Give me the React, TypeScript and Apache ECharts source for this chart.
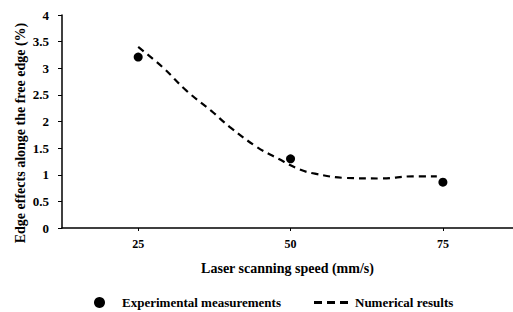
import React, { useEffect, useRef } from "react";
import * as echarts from "echarts";

const xTicks = [25, 50, 75];
const expSpeed = [25, 50, 75];
const expValues = [3.21, 1.3, 0.86];
const numSpeed = [25, 29, 33, 37, 40, 44.5, 48, 51.5, 54, 59, 65, 70, 74];
const numValues = [3.4, 3.02, 2.57, 2.2, 1.9, 1.52, 1.3, 1.1, 1.02, 0.94, 0.93, 0.97, 0.97];

const FONT = "'Liberation Serif', 'Times New Roman', serif";

export default function App() {
  const ref = useRef<HTMLDivElement>(null);
  useEffect(() => {
    if (!ref.current) return;
    const chart = echarts.init(ref.current, null, { renderer: "svg" });
    chart.setOption({
      animation: false,
      backgroundColor: "#fff",
      grid: { left: 62, right: 0, top: 15, bottom: 84, containLabel: false },
      xAxis: {
        type: "value",
        min: 12.5,
        max: 86.5,
        axisLine: { lineStyle: { color: "#000", width: 1.5 } },
        axisTick: { show: true, length: 3, customValues: xTicks, lineStyle: { color: "#000" } },
        axisLabel: {
          customValues: xTicks,
          margin: 10,
          color: "#000",
          fontFamily: FONT,
          fontWeight: "bold",
          fontSize: 12,
        },
        splitLine: { show: false },
        name: "Laser scanning speed (mm/s)",
        nameLocation: "middle",
        nameGap: 33,
        nameTextStyle: { color: "#000", fontFamily: FONT, fontWeight: "bold", fontSize: 14 },
      },
      yAxis: {
        type: "value",
        min: 0,
        max: 4,
        interval: 0.5,
        axisLine: { show: true, lineStyle: { color: "#000", width: 1.5 } },
        axisTick: { show: true, length: 4, lineStyle: { color: "#000" } },
        axisLabel: {
          margin: 13,
          color: "#000",
          fontFamily: FONT,
          fontWeight: "bold",
          fontSize: 13,
          formatter: (v: number) => String(v),
        },
        splitLine: { show: false },
      },
      graphic: [
        {
          type: "text",
          x: 20,
          y: 133,
          rotation: Math.PI / 2,
          style: {
            text: "Edge effects alonge the free edge (%)",
            fill: "#000",
            font: `bold 14px ${FONT}`,
            align: "center",
            verticalAlign: "middle",
          },
        },
      ],
      legend: [
        {
          data: [{ name: "Experimental measurements", icon: "circle", itemStyle: { color: "#000" } }],
          left: 89,
          top: 291,
          itemWidth: 11,
          itemHeight: 11,
          textStyle: { color: "#000", fontFamily: FONT, fontWeight: "bold", fontSize: 13, padding: [0, 0, 0, 12] },
        },
        {
          data: [
            {
              name: "Numerical results",
              icon: "path://M0,0H8V3H0Z M13,0H21V3H13Z M26,0H34V3H26Z",
              itemStyle: { color: "#000" },
            },
          ],
          left: 309,
          top: 291,
          itemWidth: 38,
          itemHeight: 3,
          textStyle: { color: "#000", fontFamily: FONT, fontWeight: "bold", fontSize: 13, padding: [0, 0, 0, 0] },
        },
      ],
      series: [
        {
          name: "Numerical results",
          type: "line",
          smooth: 0.4,
          showSymbol: false,
          symbol: "none",
          data: numSpeed.map((x, i) => [x, numValues[i]]),
          lineStyle: { color: "#000", width: 2.2, type: [7, 5] },
          itemStyle: { color: "#000" },
        },
        {
          name: "Experimental measurements",
          type: "scatter",
          symbol: "circle",
          symbolSize: 9,
          data: expSpeed.map((x, i) => [x, expValues[i]]),
          itemStyle: { color: "#000", opacity: 1 },
        },
      ],
    });
    return () => chart.dispose();
  }, []);
  return <div ref={ref} style={{ width: 513, height: 312, position: "absolute", left: 0, top: 0 }} />;
}
